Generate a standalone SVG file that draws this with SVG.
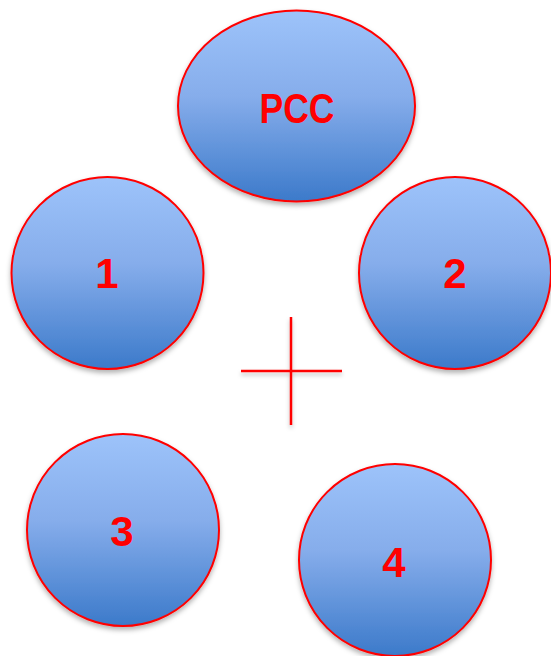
<svg xmlns="http://www.w3.org/2000/svg" width="551" height="656" viewBox="0 0 551 656">
<style>
.node{fill:url(#g);stroke:#FF0000;stroke-width:2;filter:url(#sh)}
.lbl{font-family:"Liberation Sans",Arial,sans-serif;font-weight:bold;font-size:42px;fill:#FF0000;text-anchor:middle}
.cross{stroke:#FF0000;stroke-width:2.5;fill:none}
</style>
<defs>
<linearGradient id="g" x1="0" y1="0" x2="0" y2="1">
<stop offset="0" stop-color="#9DC3FA"/>
<stop offset="0.45" stop-color="#86ADEB"/>
<stop offset="1" stop-color="#3C7ACA"/>
</linearGradient>
<filter id="sh" x="-20%" y="-20%" width="140%" height="140%">
<feDropShadow dx="0" dy="3" stdDeviation="2.5" flood-color="#000" flood-opacity="0.3"/>
</filter>
<filter id="sh2" filterUnits="userSpaceOnUse" x="220" y="300" width="140" height="140">
<feDropShadow dx="0" dy="3" stdDeviation="2" flood-color="#000" flood-opacity="0.25"/>
</filter>
</defs>
<g id="pcc">
<ellipse class="node" cx="296.5" cy="106" rx="118.5" ry="95.5"/>
<text class="lbl" x="297" y="123" textLength="75" lengthAdjust="spacingAndGlyphs">PCC</text>
</g>
<g id="n1">
<circle class="node" cx="107.5" cy="273" r="96"/>
<text class="lbl" x="107" y="288">1</text>
</g>
<g id="n2">
<circle class="node" cx="455" cy="273" r="96"/>
<text class="lbl" x="455" y="288">2</text>
</g>
<g id="n3">
<circle class="node" cx="123" cy="530" r="96"/>
<text class="lbl" x="122" y="546">3</text>
</g>
<g id="n4">
<circle class="node" cx="395" cy="560" r="96"/>
<text class="lbl" x="394" y="577">4</text>
</g>
<g id="connectors" filter="url(#sh2)">
<line class="cross" x1="241" y1="371" x2="342" y2="371"/>
<line class="cross" x1="291" y1="317" x2="291" y2="425"/>
</g>
</svg>
